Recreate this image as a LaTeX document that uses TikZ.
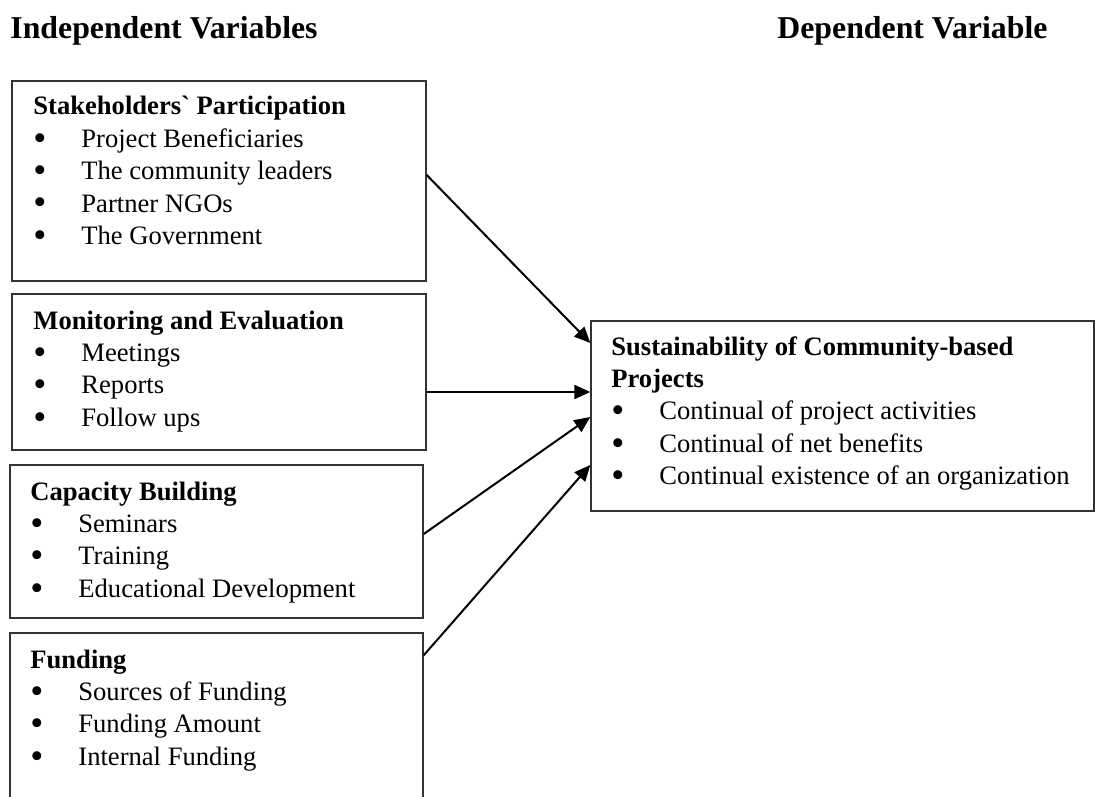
\documentclass[tikz,border=0pt]{standalone}
\usepackage{fontspec}
\setmainfont{Liberation Serif}
\usepackage{tikz}
\usetikzlibrary{arrows.meta}
\usetikzlibrary{fit}
\definecolor{framegray}{HTML}{333333}
\newcommand{\bul}{\makebox[24pt][l]{\smash{\raisebox{-1.4pt}{\scalebox{1.4}{\textbullet}}}}}
\newcommand{\varlist}[1]{\begin{tabular}[t]{@{}l@{}}#1\end{tabular}}

\begin{document}
\begin{tikzpicture}[
		x=0.5pt, y=-0.5pt,
		varbox/.style={draw=framegray, line width=0.7pt, inner sep=0pt},
		txt/.style={anchor=base west, inner sep=0pt, font=\fontsize{13.3}{16.2}\selectfont},
		coltitle/.style={anchor=base west, inner sep=0pt, font=\fontsize{15.9}{19}\selectfont\bfseries},
		link/.style={line width=1pt, -{Triangle[length=8pt, width=7pt]}}
	]
	\useasboundingbox (0,0) rectangle (1095,796);
	\clip (0,0) rectangle (1095,796);

	% column titles
	\node[coltitle] (indep) at (10,39) {Independent Variables};
	\node[coltitle] (dep) at (777,39) {Dependent Variable};

	% frames
	\node[varbox, fit={(12,81) (426,281)}] (stake) {};
	\node[varbox, fit={(12,294) (426,450)}] (monit) {};
	\node[varbox, fit={(10,465) (423,618)}] (capac) {};
	\node[varbox, fit={(10,633) (423,830)}] (fund) {};
	\node[varbox, fit={(591,321) (1094,511)}] (sust) {};

	% contents
	\node[txt] (stakeTxt) at (33,115)
		{\varlist{\textbf{Stakeholders\textasciigrave{} Participation}\\
			\bul Project Beneficiaries\\
			\bul The community leaders\\
			\bul Partner NGOs\\
			\bul The Government}};
	\node[txt] (monitTxt) at (33,329)
		{\varlist{\textbf{Monitoring and Evaluation}\\
			\bul Meetings\\
			\bul Reports\\
			\bul Follow ups}};
	\node[txt] (capacTxt) at (30,500)
		{\varlist{\textbf{Capacity Building}\\
			\bul Seminars\\
			\bul Training\\
			\bul Educational Development}};
	\node[txt] (fundTxt) at (30,668)
		{\varlist{\textbf{Funding}\\
			\bul Sources of Funding\\
			\bul Funding Amount\\
			\bul Internal Funding}};
	\node[txt] (sustTxt) at (611,355)
		{\varlist{\textbf{Sustainability of Community-based}\\
			\textbf{Projects}\\
			\bul Continual of project activities\\
			\bul Continual of net benefits\\
			\bul Continual existence of an organization}};

	% arrows
	\draw[link] ([yshift=3pt]stake.east) -- ([yshift=36.5pt]sust.west);
	\draw[link] ([yshift=-10pt]monit.east) -- ([yshift=12pt]sust.west);
	\draw[link] ([yshift=3.75pt]capac.east) -- ([yshift=-0.5pt]sust.west);
	\draw[link] ([yshift=-11.5pt]fund.north east) -- ([yshift=-24.5pt]sust.west);
\end{tikzpicture}
\end{document}
